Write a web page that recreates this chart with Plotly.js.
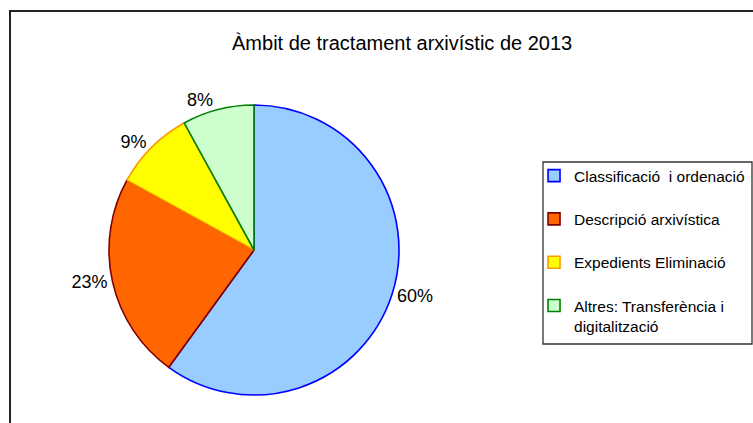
<!DOCTYPE html>
<html>
<head>
<meta charset="utf-8">
<script src="https://cdn.plot.ly/plotly-3.0.1.min.js"></script>
<style>
  html, body { margin: 0; padding: 0; background: #fff; overflow: hidden; }
  #frame { position: absolute; left: 9px; top: 10px; width: 900px; height: 600px;
           border-left: 2px solid #222; border-top: 2px solid #222; }
  #chart { position: absolute; left: 0; top: 0; width: 753px; height: 423px; }
</style>
</head>
<body>
<div id="frame"></div>
<div id="chart"></div>
<script>
const titleText = "Àmbit de tractament arxivístic de 2013";
const categories = [
  "Classificació  i ordenació",
  "Descripció arxivística",
  "Expedients Eliminació",
  "Altres: Transferència i<br>digitalització"
];
const values = [60, 23, 9, 8];
const fillColors = ["#99CCFF", "#FF6600", "#FFFF00", "#CCFFCC"];
const lineColors = ["#0000FF", "#800000", "#FF9900", "#008000"];

// blank line under each legend entry gives the wide spacing of the original
const legendLabels = categories.map(c => c + "<br> ");

const FONT = "Liberation Sans, Arial, sans-serif";

const trace = {
  type: "pie",
  labels: legendLabels,
  values: values,
  sort: false,
  direction: "clockwise",
  rotation: 0,
  textinfo: "percent",
  texttemplate: "%{percent:.0%}",
  textposition: "outside",
  outsidetextfont: { family: FONT, size: 18, color: "#000" },
  marker: { colors: fillColors, line: { color: lineColors, width: 1.6 } },
  domain: { x: [0.14475, 0.52988], y: [0.0662, 0.7518] },
  hoverinfo: "label+percent"
};

const layout = {
  width: 753, height: 423,
  margin: { l: 0, r: 0, t: 0, b: 0 },
  paper_bgcolor: "rgba(0,0,0,0)",
  plot_bgcolor: "rgba(0,0,0,0)",
  font: { family: FONT, size: 12, color: "#000" },
  title: {
    text: titleText,
    font: { family: FONT, size: 20, color: "#000" },
    x: 0.534, xanchor: "center",
    y: 0.898, yanchor: "middle"
  },
  showlegend: true,
  legend: {
    x: 0.7092, xanchor: "left",
    y: 0.624, yanchor: "top",
    borderwidth: 0,
    bgcolor: "rgba(0,0,0,0)",
    valign: "top",
    font: { family: FONT, size: 15.5, color: "#000" },
    traceorder: "normal"
  },
  shapes: [{
    type: "rect", xref: "paper", yref: "paper",
    x0: 543 / 753, x1: 752 / 753, y0: 1 - 344 / 423, y1: 1 - 162 / 423,
    line: { color: "#333", width: 1.3 }, fillcolor: "rgba(0,0,0,0)",
    layer: "below"
  }]
};

Plotly.newPlot("chart", [trace], layout, { displayModeBar: false, staticPlot: true });
</script>
</body>
</html>
